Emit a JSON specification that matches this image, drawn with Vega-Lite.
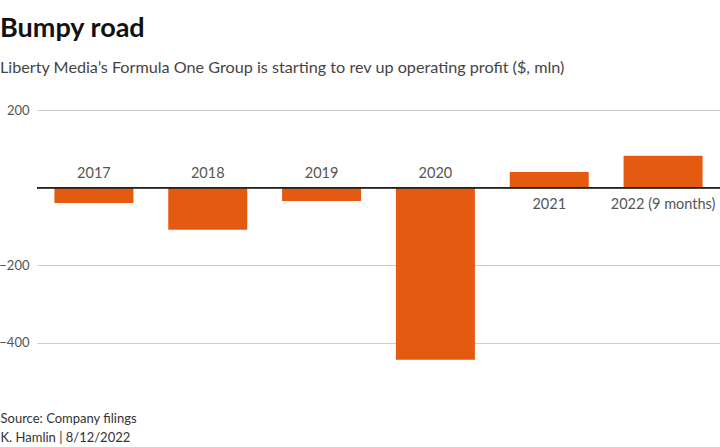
{
  "$schema": "https://vega.github.io/schema/vega-lite/v6.json",
  "width": 683,
  "height": 252,
  "autosize": {"type": "none"},
  "padding": {"left": 37, "top": 110, "right": 0, "bottom": 85},
  "background": "white",
  "config": {"view": {"stroke": null}, "font": "Lato"},
  "title": {
    "text": "Bumpy road",
    "subtitle": "Liberty Media’s Formula One Group is starting to rev up operating profit ($, mln)",
    "anchor": "start",
    "frame": "group",
    "dx": -37,
    "offset": 27,
    "fontSize": 27,
    "fontWeight": "bold",
    "color": "#111",
    "subtitleFontSize": 16.2,
    "subtitleColor": "#444",
    "subtitlePadding": 17,
    "font": "Lato",
    "subtitleFont": "Lato"
  },
  "data": {
    "values": [
      {"year": "2017", "profit": -40},
      {"year": "2018", "profit": -109},
      {"year": "2019", "profit": -35},
      {"year": "2020", "profit": -444},
      {"year": "2021", "profit": 40},
      {"year": "2022 (9 months)", "profit": 82}
    ]
  },
  "layer": [
    {
      "mark": {"type": "bar", "color": "#e35a10"},
      "encoding": {
        "x": {
          "field": "year",
          "type": "nominal",
          "sort": null,
          "scale": {"paddingInner": 0.306, "paddingOuter": 0.153},
          "axis": {
            "labels": false,
            "ticks": false,
            "domain": false,
            "title": ["Source: Company filings", "K. Hamlin | 8/12/2022"],
            "titleFontSize": 13,
            "titleFontWeight": "normal",
            "titleColor": "#333",
            "titleLineHeight": 19,
            "titleX": -37,
            "titleY": 60,
            "titleAlign": "left",
            "titleAnchor": null,
            "titleBaseline": "alphabetic",
            "titleFont": "Lato"
          }
        },
        "y": {
          "field": "profit",
          "type": "quantitative",
          "scale": {"domain": [-450, 200], "nice": false, "zero": false},
          "axis": {
            "values": [-400, -200, 200],
            "title": null,
            "domain": false,
            "ticks": false,
            "labelPadding": 8,
            "labelFontSize": 13,
            "labelColor": "#555",
            "labelFont": "Lato",
            "gridColor": "#cccccc",
            "gridWidth": 1,
            "labelExpr": "replace(datum.label, '-', '−')"
          }
        }
      }
    },
    {
      "mark": {"type": "rule", "color": "#222", "strokeWidth": 1.2},
      "encoding": {
        "y": {"datum": 0, "type": "quantitative"}
      }
    },
    {
      "transform": [{"filter": "datum.profit < 0"}],
      "mark": {"type": "text", "fontSize": 14.5, "color": "#555", "dy": -10, "baseline": "alphabetic", "font": "Lato"},
      "encoding": {
        "x": {"field": "year", "type": "nominal", "sort": null},
        "y": {"datum": 0, "type": "quantitative"},
        "text": {"field": "year"}
      }
    },
    {
      "transform": [{"filter": "datum.profit >= 0"}],
      "mark": {"type": "text", "fontSize": 14.5, "color": "#555", "dy": 21, "baseline": "alphabetic", "font": "Lato"},
      "encoding": {
        "x": {"field": "year", "type": "nominal", "sort": null},
        "y": {"datum": 0, "type": "quantitative"},
        "text": {"field": "year"}
      }
    }
  ]
}
